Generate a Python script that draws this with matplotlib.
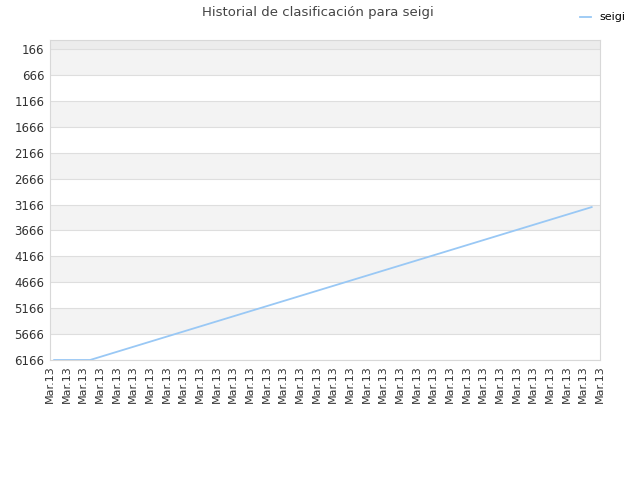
import matplotlib
matplotlib.use('Agg')
import matplotlib.pyplot as plt
import numpy as np

# data
n_labels = 34
tick_labels = ['Mar.13'] * n_labels
y_ticks = [166, 666, 1166, 1666, 2166, 2666, 3166, 3666, 4166, 4666, 5166, 5666, 6166]
pos_x = [0.25, 2.4, 32.5]
pos_y = [6166, 6166, 3216]

fig = plt.figure(figsize=(6.4, 4.8), dpi=100)
ax = fig.add_axes([50/640, 1 - 360/480, 550/640, 320/480])

y_top = -8
y_bot = 6166
ax.set_xlim(0, n_labels - 1)
ax.set_ylim(y_bot, y_top)

# alternating bands
ax.axhspan(y_top, 166, color='#ececec', zorder=0, lw=0)
for i in range(len(y_ticks) - 1):
    if i % 2 == 0:
        ax.axhspan(y_ticks[i], y_ticks[i + 1], color='#f3f3f3', zorder=0, lw=0)
for t in y_ticks:
    ax.axhline(t, color='#dedede', lw=0.8, zorder=1)

ax.plot(pos_x, pos_y, color='#99c8f5', lw=1.3, label='seigi', zorder=3)

ax.set_yticks(y_ticks)
ax.set_yticklabels([str(t) for t in y_ticks], fontsize=8.5, color='#333333')
ax.set_xticks(np.arange(n_labels))
ax.set_xticklabels(tick_labels, rotation=90, fontsize=8, color='#333333')
ax.tick_params(length=0, pad=4)
for s in ax.spines.values():
    s.set_color('#d8d8d8')

fig.text(0.497, 0.974, 'Historial de clasificación para seigi', ha='center', va='center',
         fontsize=9.5, color='#444444')
fig.legend(loc='upper right', bbox_to_anchor=(0.993, 0.995), frameon=False, fontsize=8,
           handlelength=1.0, handletextpad=0.8)

fig.savefig('out.png', dpi=100)
